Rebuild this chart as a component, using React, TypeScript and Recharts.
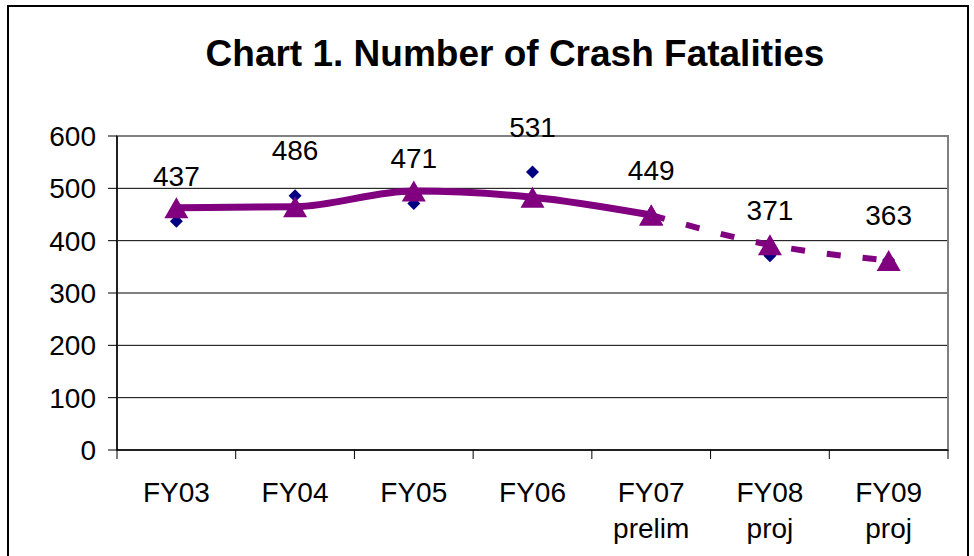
import React from 'react';
import {
  ComposedChart, Line, XAxis, YAxis, CartesianGrid, ReferenceArea, LabelList
} from 'recharts';

const categories = ['FY03', 'FY04', 'FY05', 'FY06', 'FY07', 'FY08', 'FY09'];
const categoryNotes = ['', '', '', '', 'prelim', 'proj', 'proj'];
const fatalities = [437, 486, 471, 531, 449, 371, 363];
// trend line: actual years solid, projected years dashed
const trendActual = [463, 465, 495, 483, 449, null, null];
const trendProjected = [null, null, null, null, 449, 392, 362];
const yTicks = [0, 100, 200, 300, 400, 500, 600];

const W = 974;
const H = 556;
const FONT = '"Liberation Sans", Arial, sans-serif';
const PLOT_LEFT = 117;
const PLOT_RIGHT = 948;
const HALF_BAND = (PLOT_RIGHT - PLOT_LEFT) / categories.length / 2;

const data = categories.map((name, i) => ({
  name,
  note: categoryNotes[i],
  fatalities: fatalities[i],
  trendActual: trendActual[i],
  trendProjected: trendProjected[i],
}));

// navy diamond marker
const Diamond = (props: any) => {
  const { cx, cy, value } = props;
  if (value == null || cx == null || cy == null) return <g />;
  const r = 6.5;
  return (
    <path
      d={`M${cx},${cy - r} L${cx + r},${cy} L${cx},${cy + r} L${cx - r},${cy} Z`}
      fill="#000080"
    />
  );
};

// purple triangle marker
const Triangle = (props: any) => {
  const { cx, cy, value } = props;
  if (value == null || cx == null || cy == null) return <g />;
  const hw = 12;
  const hh = 10.5;
  return (
    <path
      d={`M${cx},${cy - hh} L${cx + hw},${cy + hh} L${cx - hw},${cy + hh} Z`}
      fill="#800080"
    />
  );
};

const ValueLabel = (props: any) => {
  const { x, y, value } = props;
  if (value == null) return null;
  return (
    <text
      x={x}
      y={y - 45}
      textAnchor="middle"
      dominantBaseline="central"
      fontFamily={FONT}
      fontSize={28}
      fill="#000"
    >
      {value}
    </text>
  );
};

// Excel-style category tick: tick marks on band edges, two-line label
const CategoryTick = (props: any) => {
  const { x, y, payload } = props;
  const idx = payload.index ?? categories.indexOf(payload.value);
  const note = categoryNotes[idx];
  const axisY = y - 9;
  return (
    <g>
      <line x1={x - HALF_BAND} x2={x - HALF_BAND} y1={axisY} y2={axisY + 9} stroke="#000" />
      {idx === categories.length - 1 && (
        <line x1={x + HALF_BAND} x2={x + HALF_BAND} y1={axisY} y2={axisY + 9} stroke="#000" />
      )}
      <text x={x} y={y + 43} textAnchor="middle" fontFamily={FONT} fontSize={28} fill="#000">
        <tspan x={x}>{payload.value}</tspan>
        {note && <tspan x={x} dy={36}>{note}</tspan>}
      </text>
    </g>
  );
};

export default function App() {
  return (
    <div style={{ position: 'relative', width: W, height: H, background: '#fff', overflow: 'hidden' }}>
      <style>{'body{margin:0;overflow:hidden;}'}</style>
      <div
        style={{
          position: 'absolute', left: 7, top: 5, width: 962, height: 600,
          border: '2px solid #000', boxSizing: 'border-box',
        }}
      />
      <div
        style={{
          position: 'absolute', left: 0, top: 32, width: 1030, textAlign: 'center',
          fontFamily: FONT, fontWeight: 'bold', fontSize: 37, lineHeight: '44px', color: '#000',
        }}
      >
        Chart 1. Number of Crash Fatalities
      </div>
      <div style={{ position: 'absolute', left: 0, top: 0 }}>
        <ComposedChart
          width={W}
          height={H}
          data={data}
          margin={{ top: 136, right: W - PLOT_RIGHT, bottom: 26, left: 0 }}
        >
          <CartesianGrid horizontal vertical={false} stroke="#000" strokeWidth={1} />
          <ReferenceArea y1={0} y2={600} fill="none" stroke="#808080" strokeWidth={2} />
          <XAxis
            dataKey="name"
            scale="band"
            height={80}
            axisLine={{ stroke: '#000', strokeWidth: 1.5 }}
            tickLine={false}
            tickSize={9}
            tickMargin={0}
            interval={0}
            tick={<CategoryTick />}
          />
          <YAxis
            width={PLOT_LEFT}
            domain={[0, 600]}
            ticks={yTicks}
            interval={0}
            axisLine={{ stroke: '#000', strokeWidth: 1.5 }}
            tickLine={{ stroke: '#000' }}
            tickSize={9}
            tickMargin={12}
            tick={{ fontFamily: FONT, fontSize: 28, fill: '#000' }}
          />
          <Line
            dataKey="fatalities"
            stroke="none"
            dot={<Diamond />}
            activeDot={false}
            isAnimationActive={false}
          >
            <LabelList dataKey="fatalities" content={<ValueLabel />} />
          </Line>
          <Line
            dataKey="trendActual"
            type="monotone"
            stroke="#800080"
            strokeWidth={7}
            dot={<Triangle />}
            activeDot={false}
            isAnimationActive={false}
          />
          <Line
            dataKey="trendProjected"
            type="monotone"
            stroke="#800080"
            strokeWidth={6}
            strokeDasharray="14 22"
            dot={<Triangle />}
            activeDot={false}
            isAnimationActive={false}
          />
        </ComposedChart>
      </div>
    </div>
  );
}
